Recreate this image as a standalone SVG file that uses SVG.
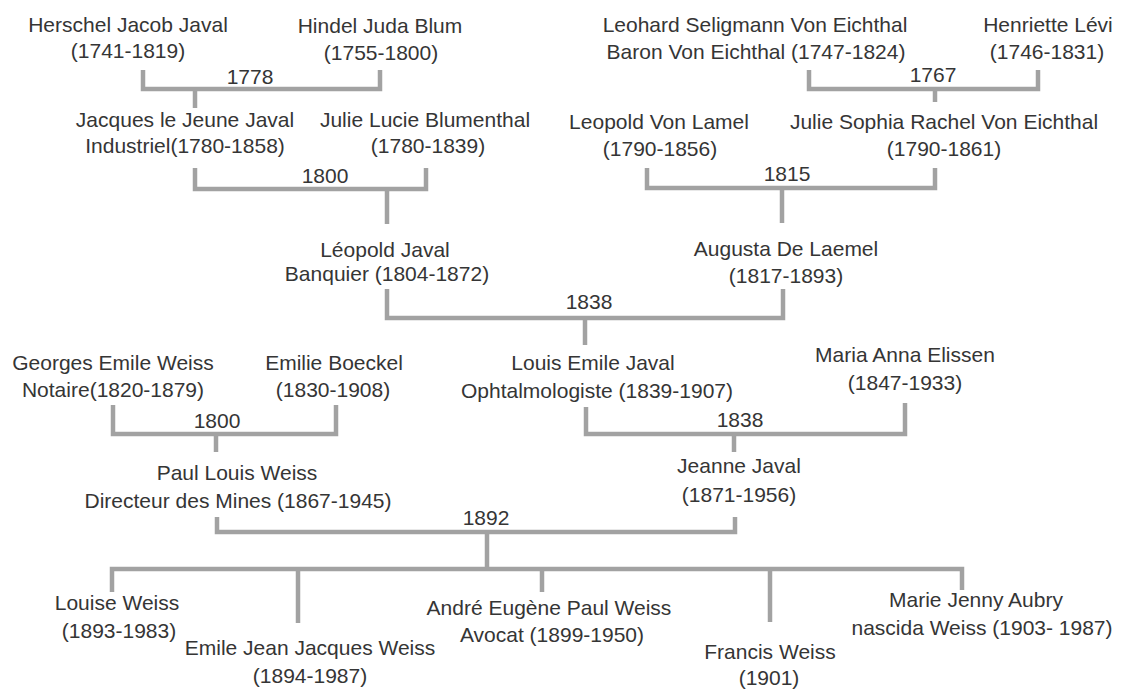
<svg xmlns="http://www.w3.org/2000/svg" width="1132" height="689" viewBox="0 0 1132 689">
<style>
text{font-family:"Liberation Sans",Arial,sans-serif;font-size:21px;fill:#353535;text-anchor:middle}
.yr{font-size:21px}
.ln{fill:none;stroke:#a2a2a2;stroke-width:4.5;stroke-linejoin:miter;stroke-linecap:butt}
</style>
<rect width="1132" height="689" fill="#ffffff"/>
<g id="connectors">
<path class="ln" d="M143,70 V89 H380 V70 M195,89 V108"/>
<path class="ln" d="M809,70 V89 H1038 V70 M935,89 V102"/>
<path class="ln" d="M195,168 V189 H426 V168 M387,189 V224"/>
<path class="ln" d="M647,168 V188 H935 V168 M782,188 V223"/>
<path class="ln" d="M387,289 V318 H783 V289 M585,318 V345"/>
<path class="ln" d="M113,405 V434 H336 V405 M216,434 V452"/>
<path class="ln" d="M586,407 V434 H905 V403 M734,434 V452"/>
<path class="ln" d="M217,517 V532 H735 V517 M487,532 V568"/>
<path class="ln" d="M112,592 V569 H962 V590 M298,569 V623 M542,569 V592 M770,569 V622"/>
</g>
<g id="marriage-years">
<text class="yr" x="250" y="84">1778</text>
<text class="yr" x="933" y="82">1767</text>
<text class="yr" x="325" y="183">1800</text>
<text class="yr" x="787" y="181">1815</text>
<text class="yr" x="589" y="309">1838</text>
<text class="yr" x="217" y="428">1800</text>
<text class="yr" x="740" y="427">1838</text>
<text class="yr" x="486" y="525">1892</text>
</g>
<g id="herschel"><text x="128" y="32">Herschel Jacob Javal</text><text x="128" y="58">(1741-1819)</text></g>
<g id="hindel"><text x="380" y="33">Hindel Juda Blum</text><text x="381" y="60">(1755-1800)</text></g>
<g id="leohard"><text x="755" y="32">Leohard Seligmann Von Eichthal</text><text x="756" y="59">Baron Von Eichthal (1747-1824)</text></g>
<g id="henriette"><text x="1048" y="32">Henriette Lévi</text><text x="1047" y="59">(1746-1831)</text></g>
<g id="jacques"><text x="185" y="127">Jacques le Jeune Javal</text><text x="185" y="153">Industriel(1780-1858)</text></g>
<g id="julie-lucie"><text x="425" y="127">Julie Lucie Blumenthal</text><text x="428" y="153">(1780-1839)</text></g>
<g id="leopold-lamel"><text x="659" y="129">Leopold Von Lamel</text><text x="660" y="156">(1790-1856)</text></g>
<g id="julie-sophia"><text x="944" y="129">Julie Sophia Rachel Von Eichthal</text><text x="944" y="156">(1790-1861)</text></g>
<g id="leopold-javal"><text x="385" y="257">Léopold Javal</text><text x="387" y="281">Banquier (1804-1872)</text></g>
<g id="augusta"><text x="786" y="256">Augusta De Laemel</text><text x="786" y="283">(1817-1893)</text></g>
<g id="georges"><text x="113" y="370">Georges Emile Weiss</text><text x="113" y="397">Notaire(1820-1879)</text></g>
<g id="emilie"><text x="334" y="370">Emilie Boeckel</text><text x="333" y="397">(1830-1908)</text></g>
<g id="louis-emile"><text x="593" y="370">Louis Emile Javal</text><text x="597" y="398">Ophtalmologiste (1839-1907)</text></g>
<g id="maria"><text x="905" y="362">Maria Anna Elissen</text><text x="905" y="390">(1847-1933)</text></g>
<g id="paul-louis"><text x="237" y="480">Paul Louis Weiss</text><text x="238" y="508">Directeur des Mines (1867-1945)</text></g>
<g id="jeanne"><text x="739" y="473">Jeanne Javal</text><text x="739" y="502">(1871-1956)</text></g>
<g id="louise"><text x="117" y="610">Louise Weiss</text><text x="119" y="638">(1893-1983)</text></g>
<g id="emile-jean"><text x="310" y="655">Emile Jean Jacques Weiss</text><text x="310" y="683">(1894-1987)</text></g>
<g id="andre"><text x="549" y="615">André Eugène Paul Weiss</text><text x="552" y="642">Avocat (1899-1950)</text></g>
<g id="francis"><text x="770" y="659">Francis Weiss</text><text x="769" y="685">(1901)</text></g>
<g id="marie-jenny"><text x="976" y="607">Marie Jenny Aubry</text><text x="982" y="635">nascida Weiss (1903- 1987)</text></g>
</svg>
